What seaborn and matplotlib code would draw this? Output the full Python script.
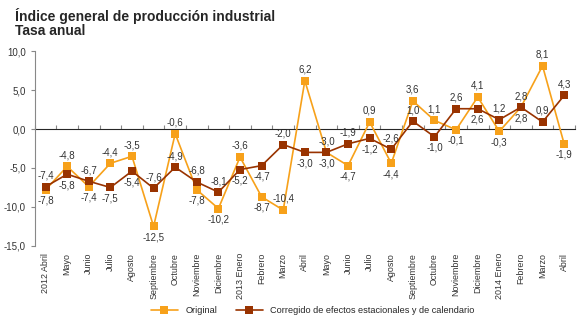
import seaborn as sns
import pandas as pd
import matplotlib.pyplot as plt
from matplotlib.ticker import FuncFormatter

meses = ["2012 Abril", "Mayo", "Junio", "Julio", "Agosto", "Septiembre", "Octubre",
         "Noviembre", "Diciembre", "2013 Enero", "Febrero", "Marzo", "Abril", "Mayo",
         "Junio", "Julio", "Agosto", "Septiembre", "Octubre", "Noviembre", "Diciembre",
         "2014 Enero", "Febrero", "Marzo", "Abril"]
original = [-7.8, -4.8, -7.4, -4.4, -3.5, -12.5, -0.6, -7.8, -10.2, -3.6, -8.7, -10.4,
            6.2, -3.0, -4.7, 0.9, -4.4, 3.6, 1.1, -0.1, 4.1, -0.3, 2.8, 8.1, -1.9]
corregido = [-7.4, -5.8, -6.7, -7.5, -5.4, -7.6, -4.9, -6.8, -8.1, -5.2, -4.7, -2.0,
             -3.0, -3.0, -1.9, -1.2, -2.6, 1.0, -1.0, 2.6, 2.6, 1.2, 2.8, 0.9, 4.3]

# label placement: 1 above, -1 below
pos_orig = [-1, 1, -1, 1, 1, -1, 1, -1, -1, 1, -1, 1, 1, 1, -1, 1, -1, 1, 1, -1, 1, -1, -1, 1, -1]
pos_corr = [1, -1, 1, -1, -1, 1, 1, 1, 1, -1, -1, 1, -1, -1, 1, -1, 1, 1, -1, 1, -1, 1, 1, 1, 1]

n_orig = "Original"
n_corr = "Corregido de efectos estacionales y de calendario"
c_orig = "#F7A11A"
c_corr = "#993300"

df = pd.DataFrame({
    "x": list(range(len(meses))) * 2,
    "valor": original + corregido,
    "serie": [n_orig] * len(meses) + [n_corr] * len(meses),
})

sns.set_style("white")
plt.rcParams['font.family'] = ['Liberation Sans', 'DejaVu Sans']

fig = plt.figure(figsize=(5.79, 3.19), dpi=100)
ax = fig.add_axes([0.060, 0.229, 0.933, 0.611])

sns.lineplot(data=df, x="x", y="valor", hue="serie", palette={n_orig: c_orig, n_corr: c_corr},
             marker="s", markersize=5.5, markeredgewidth=0, linewidth=1.2, ax=ax, sort=False)

for vals, pos, col in [(original, pos_orig, c_orig), (corregido, pos_corr, c_corr)]:
    for i, (v, p) in enumerate(zip(vals, pos)):
        ax.annotate(f"{v:.1f}".replace(".", ","), (i, v), xytext=(0, 8 * p), textcoords="offset points",
                    ha="center", va="center", fontsize=7, color="#333333")

ax.set_xlim(-0.5, len(meses) - 0.5)
ax.set_ylim(-15, 10)
ax.set_yticks([10, 5, 0, -5, -10, -15])
ax.yaxis.set_major_formatter(FuncFormatter(lambda v, _: f"{v:.1f}".replace(".", ",")))
ax.set_xticks(range(len(meses)))
ax.set_xticklabels(meses, rotation=90, fontsize=6.4, color="#333333")
ax.tick_params(axis="x", length=0, pad=5)
ax.tick_params(axis="y", length=3, width=0.8, color="#888888", labelsize=7, labelcolor="#333333", left=True)
ax.set_xlabel("")
ax.set_ylabel("")

for s in ["top", "right", "bottom"]:
    ax.spines[s].set_visible(False)
ax.spines["left"].set_color("#888888")
ax.spines["left"].set_linewidth(0.8)

# zero axis with tick marks between months
zero = ax.secondary_xaxis(15 / 25)
zero.set_xticks([i - 0.5 for i in range(len(meses) + 1)])
zero.set_xticklabels([])
zero.tick_params(length=3, width=0.8, color="#888888")
zero.spines["bottom"].set_color("#888888")
zero.spines["bottom"].set_linewidth(0.8)

handles, labels = ax.get_legend_handles_labels()
ax.get_legend().remove()
fig.legend(handles, labels, loc="center", bbox_to_anchor=(0.54, 0.027), ncol=2, frameon=False,
           fontsize=6.6, handlelength=3, columnspacing=2.0, borderaxespad=0, borderpad=0)

fig.text(0.026, 0.975, "Índice general de producción industrial", fontsize=10, fontweight="bold", va="top")
fig.text(0.026, 0.925, "Tasa anual", fontsize=10, fontweight="bold", va="top")

fig.savefig("out.png", dpi=100)
